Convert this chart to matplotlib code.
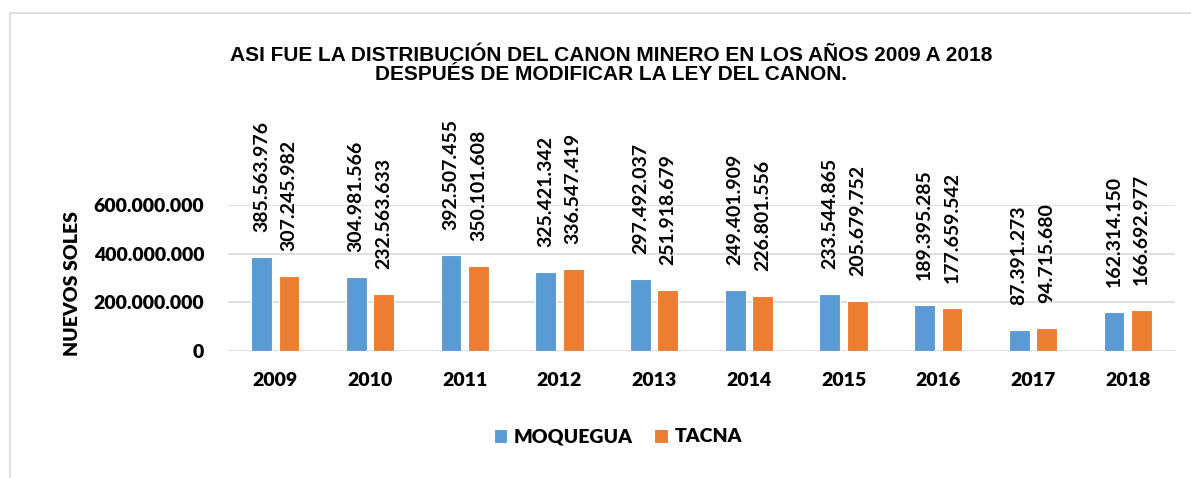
import numpy as np
import matplotlib.pyplot as plt
from matplotlib.patches import Rectangle

# Datos del canon minero (nuevos soles)
years = ["2009", "2010", "2011", "2012", "2013", "2014", "2015", "2016", "2017", "2018"]
moquegua = [385563976, 304981566, 392507455, 325421342, 297492037,
            249401909, 233544865, 189395285, 87391273, 162314150]
tacna = [307245982, 232563633, 350101608, 336547419, 251918679,
         226801556, 205679752, 177659542, 94715680, 166692977]

blue = "#5B9BD5"
orange = "#ED7D31"
lbl_font = "Lato"
heavy = "heavy"

def fmt(v):
    return f"{v:,}".replace(",", ".")

fig = plt.figure(figsize=(11.91, 4.78), dpi=100)
ax = fig.add_axes([0.1914, 0.2657, 0.7952, 0.3054])

# Marco del gráfico
fig.patches.append(Rectangle((10 / 1191, -0.2), 1.2, 1 - 13 / 478 + 0.2,
                             transform=fig.transFigure, fill=False,
                             edgecolor="#D9D9D9", linewidth=1.2))

x = np.arange(len(years))
w = 0.22
off = 0.145
b1 = ax.bar(x - off, moquegua, w, color=blue, edgecolor="white", linewidth=0.8, label="MOQUEGUA", zorder=3)
b2 = ax.bar(x + off, tacna, w, color=orange, edgecolor="white", linewidth=0.8, label="TACNA", zorder=3)

for bars, vals in [(b1, moquegua), (b2, tacna)]:
    for rect, v in zip(bars, vals):
        ax.annotate(fmt(v), (rect.get_x() + rect.get_width() / 2, v),
                    xytext=(0, 18), textcoords="offset points",
                    rotation=90, ha="center", va="bottom",
                    fontsize=14, fontweight="bold", family=lbl_font,
                    annotation_clip=False)

ax.set_xlim(-0.5, len(years) - 0.5)
ax.set_ylim(0, 600000000)
ax.set_yticks([0, 200000000, 400000000, 600000000])
ax.set_yticklabels([fmt(t) for t in [0, 200000000, 400000000, 600000000]])
ax.set_xticks(x)
ax.set_xticklabels(years)
for t in ax.get_xticklabels() + ax.get_yticklabels():
    t.set_fontsize(14)
    t.set_fontweight(heavy)
    t.set_family(lbl_font)
ax.tick_params(axis="both", length=0)
ax.tick_params(axis="y", pad=17)
ax.tick_params(axis="x", pad=15)

ax.grid(axis="y", color="#D9D9D9", linewidth=1.2, zorder=0)
for s in ax.spines.values():
    s.set_visible(False)

fig.text(72 / 1191, 1 - 284 / 478, "NUEVOS SOLES", rotation=90, ha="center", va="center",
         fontsize=14, fontweight=heavy, family=lbl_font)

fig.text(611 / 1191, 1 - 65 / 478,
         "ASI FUE LA DISTRIBUCIÓN DEL CANON MINERO EN LOS AÑOS 2009 A 2018\nDESPUÉS DE MODIFICAR LA LEY DEL CANON.",
         ha="center", va="center", fontsize=15, fontweight="bold",
         family="Liberation Sans", linespacing=1.0)

leg = fig.legend(handles=[b1, b2], loc="center", bbox_to_anchor=(618 / 1191, 1 - 437 / 478),
                 ncol=2, frameon=False, handlelength=0.7, handleheight=0.7,
                 columnspacing=1.1, handletextpad=0.35,
                 prop={"family": lbl_font, "weight": heavy, "size": 14})

fig.savefig("out.png", dpi=100)
